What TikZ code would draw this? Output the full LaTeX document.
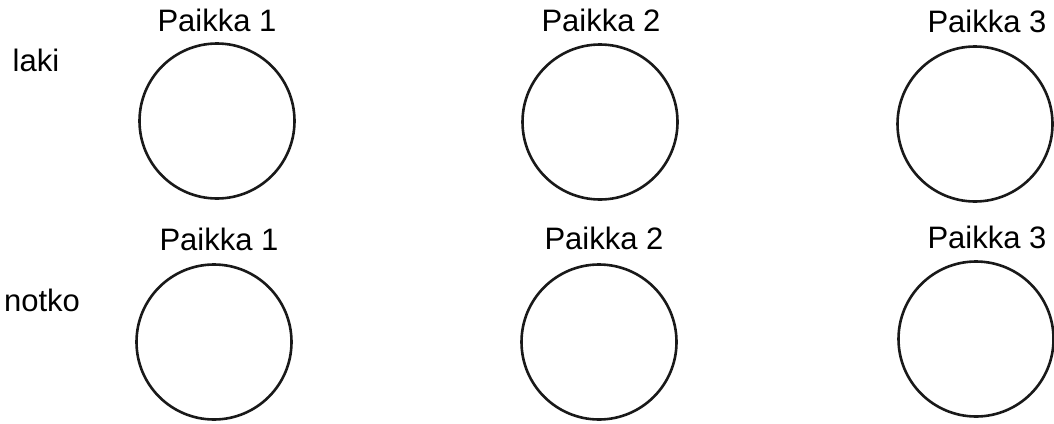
\documentclass[tikz,border=0pt]{standalone}
\usepackage{fontspec}
\setmainfont{Liberation Sans}
\tikzset{
  spot/.style = 	{shape=circle, draw=black!90, line width=2.6pt,
				minimum size=155pt, inner sep=0pt},
  spotlabel/.style = 	{font=\fontsize{31}{37}\selectfont},
  rowlabel/.style = 	{spotlabel},
}

\begin{document}
\begin{tikzpicture}
	[
		x = 1pt,
		y = -1pt
	]
	\useasboundingbox (0,0) rectangle (1054,423);
	% row names
	\node [rowlabel] (laki) at (36,60) {laki};
	\node [rowlabel] (notko) at (42,300) {notko};
	% upper row
	\node [spot] (laki1) at (217,121) {};
	\node [spot] (laki2) at (600,122) {};
	\node [spot] (laki3) at (975,124) {};
	\node [spotlabel] (lakilabel1) at (217,20) {Paikka 1};
	\node [spotlabel] (lakilabel2) at (601,20) {Paikka 2};
	\node [spotlabel] (lakilabel3) at (987,21) {Paikka 3};
	% lower row
	\node [spot] (notko1) at (214,342) {};
	\node [spot] (notko2) at (599,342) {};
	\node [spot] (notko3) at (976,339) {};
	\node [spotlabel] (notkolabel1) at (219,239) {Paikka 1};
	\node [spotlabel] (notkolabel2) at (604,238) {Paikka 2};
	\node [spotlabel] (notkolabel3) at (987,237) {Paikka 3};
\end{tikzpicture}
\end{document}
